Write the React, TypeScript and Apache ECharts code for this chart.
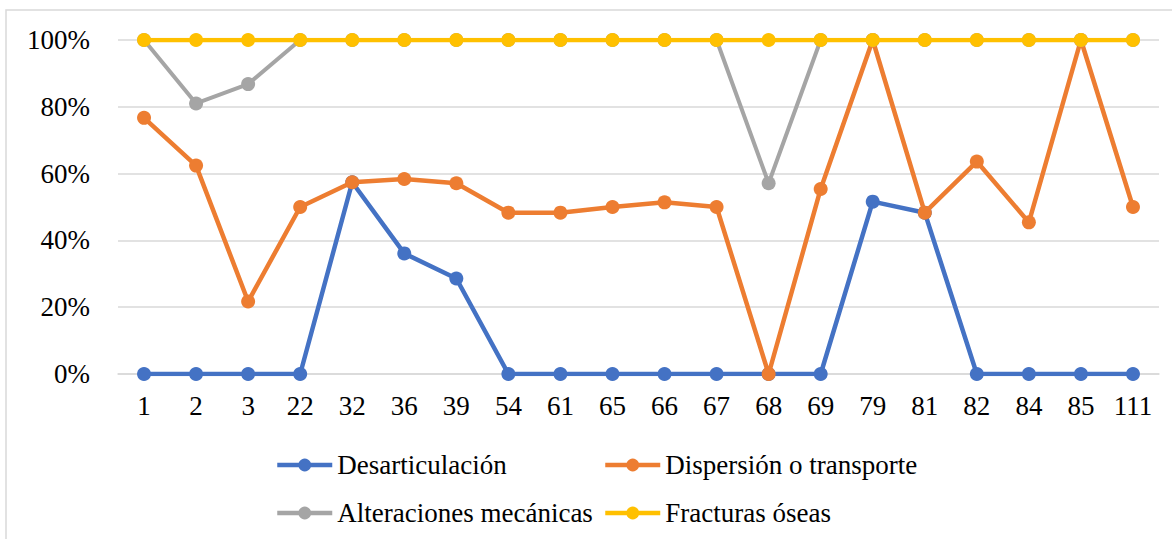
import React, { useEffect, useRef } from "react";
import * as echarts from "echarts";

const categories = ["1", "2", "3", "22", "32", "36", "39", "54", "61", "65", "66", "67", "68", "69", "79", "81", "82", "84", "85", "111"];
const desarticulacion = [0, 0, 0, 0, 57.4, 36.1, 28.6, 0, 0, 0, 0, 0, 0, 0, 51.6, 48.3, 0, 0, 0, 0];
const dispersion = [76.7, 62.4, 21.7, 50, 57.4, 58.4, 57.1, 48.3, 48.3, 50, 51.4, 50, 0, 55.4, 100, 48.3, 63.6, 45.4, 100, 50];
const alteraciones = [100, 81.0, 86.8, 100, 100, 100, 100, 100, 100, 100, 100, 100, 57.1, 100, 100, 100, 100, 100, 100, 100];
const fracturas = [100, 100, 100, 100, 100, 100, 100, 100, 100, 100, 100, 100, 100, 100, 100, 100, 100, 100, 100, 100];
const seriesNames = ["Desarticulación", "Dispersión o transporte", "Alteraciones mecánicas", "Fracturas óseas"];
const colors = ["#4472C4", "#ED7D31", "#A5A5A5", "#FFC000"];

const FONT = "'Liberation Serif', 'Times New Roman', serif";

export default function App() {
  const ref = useRef<HTMLDivElement>(null);
  useEffect(() => {
    if (!ref.current) return;
    const chart = echarts.init(ref.current, undefined, { renderer: "svg" });
    const dataSets = [desarticulacion, dispersion, alteraciones, fracturas];
    const legendText = { fontFamily: FONT, fontSize: 27, color: "#000", lineHeight: 30 };
    const legendCommon = {
      orient: "vertical",
      top: 445,
      itemWidth: 55,
      itemHeight: 16,
      itemGap: 18,
      textStyle: legendText,
      lineStyle: { width: 4.5 },
    };
    chart.setOption({
      animation: false,
      backgroundColor: "#fff",
      color: colors,
      graphic: [
        {
          type: "rect",
          shape: { x: 6, y: 10, width: 1300, height: 700 },
          style: { fill: "none", stroke: "#d9d9d9", lineWidth: 1.5 },
          silent: true,
        },
      ],
      grid: { left: 118, right: 13, top: 40, bottom: 165 },
      legend: [
        { ...legendCommon, left: 270, data: [seriesNames[0], seriesNames[2]] },
        { ...legendCommon, left: 598, data: [seriesNames[1], seriesNames[3]] },
      ],
      xAxis: {
        type: "category",
        data: categories,
        boundaryGap: true,
        axisLine: { lineStyle: { color: "#d9d9d9", width: 1.5 } },
        axisTick: { show: false },
        axisLabel: { fontFamily: FONT, fontSize: 27, color: "#000", margin: 18, interval: 0 },
      },
      yAxis: {
        type: "value",
        min: 0,
        max: 100,
        interval: 20,
        axisLine: { show: false },
        axisTick: { show: false },
        splitLine: { lineStyle: { color: "#d9d9d9", width: 1.5 } },
        axisLabel: { fontFamily: FONT, fontSize: 27, color: "#000", margin: 28, formatter: "{value}%" },
      },
      series: seriesNames.map((name, i) => ({
        name,
        type: "line",
        data: dataSets[i],
        symbol: "circle",
        symbolSize: 14,
        lineStyle: { width: i === 2 ? 4 : 4.5, color: colors[i] },
        itemStyle: { color: colors[i] },
        z: 2 + i,
      })),
    });
    return () => chart.dispose();
  }, []);
  return (
    <div
      ref={ref}
      style={{ position: "absolute", left: 0, top: 0, width: 1172, height: 539 }}
    />
  );
}
